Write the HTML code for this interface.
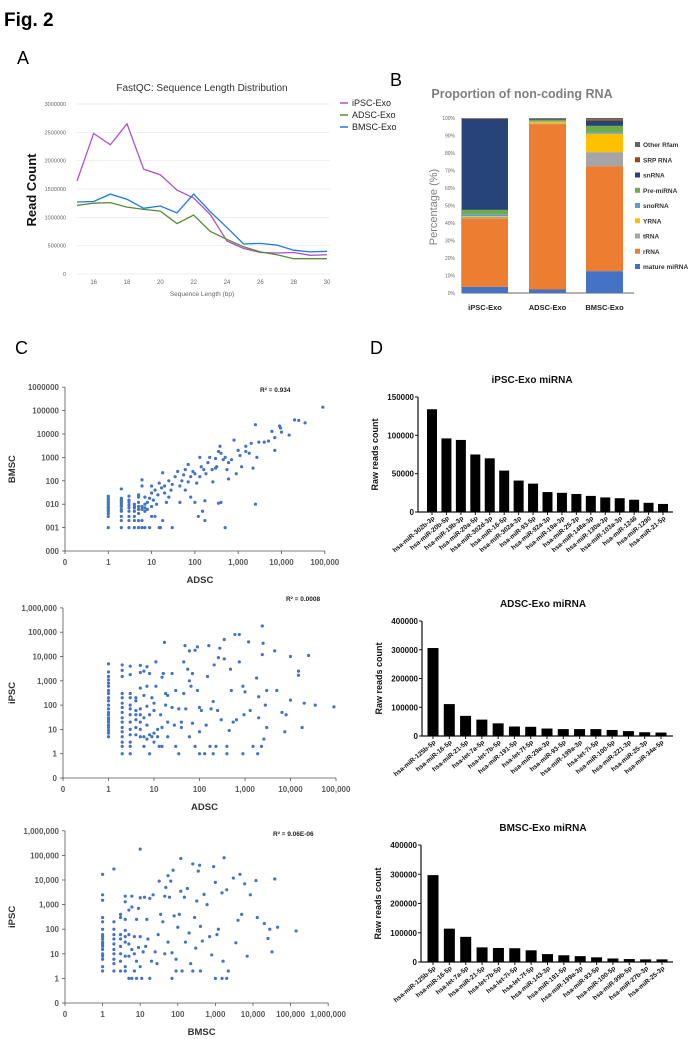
<!DOCTYPE html>
<html><head><meta charset="utf-8"><style>
html,body{margin:0;padding:0;background:#fff;}
svg{display:block;font-family:"Liberation Sans",Arial,sans-serif;}
</style></head><body>
<svg id="fig" width="697" height="1039" viewBox="0 0 697 1039">
<text x="4" y="26" font-size="19" font-weight="bold">Fig. 2</text>
<text x="17" y="64" font-size="18">A</text>
<text x="390" y="86" font-size="18">B</text>
<text x="15" y="354" font-size="18">C</text>
<text x="370" y="354" font-size="18">D</text>
<g id="gA"></g><g id="gB"></g><g id="gC"></g><g id="gD"></g>
</svg>
<script>
// ---- Panel A data ----
const lenCats=[15,16,17,18,19,20,21,22,23,24,25,26,27,28,29,30];
const ipscLen=[1640000,2480000,2280000,2650000,1850000,1750000,1480000,1340000,1050000,580000,450000,380000,370000,380000,330000,340000];
const adscLen=[1210000,1250000,1260000,1180000,1140000,1110000,890000,1040000,750000,610000,480000,390000,340000,270000,270000,270000];
const bmscLen=[1270000,1280000,1410000,1320000,1160000,1200000,1080000,1410000,1100000,820000,530000,540000,510000,420000,390000,400000];
const lenYTicks=[0,500000,1000000,1500000,2000000,2500000,3000000];
const lenXTicks=[16,18,20,22,24,26,28,30];
// ---- Panel B data ----
const rnaGroups=["iPSC-Exo","ADSC-Exo","BMSC-Exo"];
const rnaTypes=["mature miRNA","rRNA","tRNA","YRNA","snoRNA","Pre-miRNA","snRNA","SRP RNA","Other Rfam"];
const rnaIpsc=[3.5,39,1,0.5,1,2.5,52,0.3,0.2];
const rnaAdsc=[2,94.5,0.5,1,0.3,0.7,0.6,0.2,0.2];
const rnaBmsc=[12.5,60,8,10.5,0.8,3.7,3,0.8,0.7];
const pctTicks=["0%","10%","20%","30%","40%","50%","60%","70%","80%","90%","100%"];
// ---- Panel C data ----
const adscBmsc=[[1,1],[1,3],[1,4],[1,5],[1,6],[1,7],[1,8],[1,10],[1,12],[1,15],[1,18],[1,22],[2,1],[2,2],[2,3],[2,5],[2,6],[2,8],[2,9],[2,11],[2,13],[2,15],[2,18],[2,45],[3,1],[3,2],[3,3],[3,5],[3,7],[3,9],[3,12],[3,15],[3,22],[4,1],[4,2],[4,3],[4,5],[4,7],[4,8],[4,10],[5,1],[5,2],[5,4],[5,6],[5,8],[5,12],[5,20],[5,25],[6,1],[6,2],[6,6],[6,8],[6,60],[6,110],[7,1],[7,5],[7,7],[7,10],[7,20],[8,6],[8,12],[9,1],[9,18],[10,3],[10,8],[10,30],[10,60],[11,15],[12,3],[12,40],[13,10],[14,25],[15,1],[15,80],[16,1],[17,50],[18,2],[18,220],[20,30],[20,60],[22,12],[25,100],[25,20],[28,40],[30,1],[30,70],[35,150],[40,250],[45,60],[45,12],[50,100],[55,180],[60,40],[60,300],[70,90],[70,500],[80,20],[80,150],[90,250],[100,12],[100,200],[110,80],[120,3],[130,150],[140,400],[150,5],[160,300],[170,2],[170,14],[180,200],[200,600],[220,1000],[250,300],[260,90],[300,900],[320,400],[350,11],[380,3000],[400,12],[400,1500],[450,800],[500,1],[500,1000],[550,300],[600,120],[700,800],[800,5500],[900,200],[1000,2000],[1100,1200],[1200,400],[1500,3000],[1800,1500],[2000,4000],[2200,350],[2500,10],[2500,25000],[2700,1000],[3000,4500],[4000,4500],[5000,5000],[6000,13000],[7000,2000],[7000,7000],[9000,22000],[10000,12000],[15000,9000],[20000,40000],[25000,38000],[35000,30000],[90000,140000],[9500,18000],[1500,1800],[350,1800],[600,600],[130,1000],[300,350]];
const adscIpsc=[[1,5],[1,7],[1,9],[1,12],[1,15],[1,20],[1,25],[1,30],[1,40],[1,50],[1,70],[1,100],[1,150],[1,200],[1,300],[1,400],[1,600],[1,800],[1,1100],[1,1500],[1,2300],[1,5000],[2,1],[2,2],[2,3],[2,5],[2,8],[2,12],[2,20],[2,30],[2,50],[2,80],[2,120],[2,200],[2,300],[2,1500],[2,2700],[2,4500],[3,1],[3,2],[3,3],[3,6],[3,10],[3,20],[3,40],[3,70],[3,100],[3,200],[3,300],[3,1800],[3,4000],[4,6],[4,12],[4,25],[4,40],[4,60],[4,150],[4,200],[5,5],[5,10],[5,20],[5,40],[5,70],[5,500],[5,2200],[5,4300],[6,2],[6,5],[6,30],[6,250],[6,2500],[7,4],[7,15],[7,90],[7,600],[7,3800],[8,1],[8,6],[8,40],[8,2000],[9,5],[9,200],[10,3],[10,7],[10,60],[10,120],[11,600],[11,6000],[12,5],[12,10],[13,2],[14,40],[15,2],[15,12],[15,1400],[16,2000],[17,38000],[18,100],[18,300],[20,5],[20,20],[20,250],[25,80],[25,2000],[28,15],[30,400],[30,2],[35,1],[35,70],[40,12],[40,20],[45,6000],[45,300],[48,28000],[50,70],[55,3000],[60,5],[60,1000],[60,17000],[65,600],[70,18],[70,2000],[80,2],[80,18000],[90,25000],[90,400],[100,1],[100,80],[100,8],[110,60],[130,1],[140,15],[150,1500],[160,28000],[170,2],[180,70],[200,140],[200,1],[210,4500],[230,2],[250,60],[260,9000],[280,22000],[300,25],[350,50000],[350,8000],[400,1],[400,2],[450,9],[480,3000],[500,400],[550,20],[600,80000],[650,25],[750,80000],[750,6000],[900,1],[900,600],[950,40],[1000,350],[1200,40000],[1300,60],[1500,2],[1800,1300],[1900,1],[2000,30],[2000,220],[2300,2],[2400,180000],[2400,12000],[2500,35000],[2600,4],[2800,100],[3000,12],[3000,400],[4500,17000],[5000,400],[6500,50],[7500,8],[8000,40],[10000,10000],[10000,160],[15000,2500],[15000,1700],[18000,12],[20000,120],[25000,11000],[35000,100],[90000,85]];
const bmscIpsc=[[1,2],[1,3],[1,6],[1,8],[1,10],[1,15],[1,20],[1,25],[1,30],[1,40],[1,50],[1,60],[1,100],[1,200],[1,300],[1,1500],[1,2500],[1,17000],[2,2],[2,4],[2,6],[2,10],[2,15],[2,25],[2,40],[2,60],[2,100],[2,200],[2,28000],[3,2],[3,5],[3,10],[3,20],[3,40],[3,60],[3,300],[3,400],[4,2],[4,3],[4,8],[4,30],[4,50],[4,90],[4,250],[4,1300],[4,2200],[5,1],[5,8],[5,25],[5,60],[5,600],[6,1],[6,15],[6,800],[6,2200],[7,2],[7,10],[7,50],[8,1],[8,5],[8,250],[9,18],[9,700],[10,3],[10,50],[10,1900],[10,180000],[11,1],[12,12],[13,2000],[14,20],[15,250],[16,40],[18,1],[18,1800],[20,5],[22,2500],[25,12],[28,4],[30,60],[32,9000],[35,400],[40,200],[45,2200],[45,10],[48,5000],[55,30],[55,15000],[60,2000],[65,9000],[70,1],[70,11],[75,25000],[80,350],[90,2],[90,6],[100,120],[110,400],[120,75000],[120,3500],[130,2],[150,2000],[160,30],[180,4500],[200,70],[220,4],[250,2],[250,45000],[280,300],[300,17],[320,1400],[350,23000],[380,40000],[400,130],[400,2],[450,33],[500,2600],[600,1000],[700,50],[800,9],[900,35000],[1000,8000],[1000,1],[1100,60],[1200,100],[1500,3000],[1500,1],[1600,5],[1700,80000],[2000,1],[2000,4000],[2200,2],[3000,12000],[3500,28],[4000,230],[4500,17000],[5000,400],[6000,7000],[7000,8],[8500,2500],[12000,9500],[13000,300],[20000,170],[25000,42],[28000,100],[32000,12],[38000,11000],[45000,120],[140000,85]];
const sc1XTicks=["0","1","10","100","1,000","10,000","100,000"];
const sc1YTicks=["000","001","010","100","1000","10000","100000","1000000"];
const sc2XTicks=["0","1","10","100","1,000","10,000","100,000"];
const sc2YTicks=["0","1","10","100","1,000","10,000","100,000","1,000,000"];
const sc3XTicks=["0","1","10","100","1,000","10,000","100,000","1,000,000"];
const sc3YTicks=["0","1","10","100","1,000","10,000","100,000","1,000,000"];
// ---- Panel D data ----
const ipscMirs=["hsa-miR-302b-3p","hsa-miR-20b-5p","hsa-miR-19b-3p","hsa-miR-20a-5p","hsa-miR-302d-3p","hsa-miR-16-5p","hsa-miR-302a-3p","hsa-miR-93-5p","hsa-miR-92a-3p","hsa-miR-19a-3p","hsa-miR-25-3p","hsa-miR-148a-3p","hsa-miR-130a-3p","hsa-miR-103a-3p","hsa-miR-1246","hsa-miR-1290","hsa-miR-21-5p"];
const ipscCounts=[134000,96000,94000,75000,70000,54000,41000,37000,26000,25000,23500,21000,19000,18000,16000,12000,10500];
const adscMirs=["hsa-miR-125b-5p","hsa-miR-16-5p","hsa-miR-21-5p","hsa-let-7a-5p","hsa-let-7b-5p","hsa-miR-191-5p","hsa-let-7f-5p","hsa-miR-29a-3p","hsa-miR-93-5p","hsa-miR-199a-3p","hsa-let-7i-5p","hsa-miR-100-5p","hsa-miR-221-3p","hsa-miR-25-3p","hsa-miR-34a-5p"];
const adscCounts=[306000,111000,70000,57000,44000,33000,32000,26000,24000,24000,24000,21000,17000,13000,12000];
const bmscMirs=["hsa-miR-125b-5p","hsa-miR-16-5p","hsa-let-7a-5p","hsa-miR-21-5p","hsa-let-7b-5p","hsa-let-7i-5p","hsa-let-7f-5p","hsa-miR-143-3p","hsa-miR-191-5p","hsa-miR-199a-3p","hsa-miR-93-5p","hsa-miR-100-5p","hsa-miR-99b-5p","hsa-miR-27b-3p","hsa-miR-25-3p"];
const bmscCounts=[297000,114000,86000,50000,48000,47000,40000,27000,23000,20000,16000,12000,10000,9000,9000];
const ipscTicks=[0,50000,100000,150000];
const msTicks=[0,100000,200000,300000,400000];

const NS="http://www.w3.org/2000/svg";
function mk(parent,tag,attrs,text){const e=document.createElementNS(NS,tag);for(const k in attrs)e.setAttribute(k,attrs[k]);if(text!==undefined)e.textContent=text;parent.appendChild(e);return e;}

// ---- Panel A ----
(function(){
const g=document.getElementById('gA');
const X=v=>77+(v-15)*(327-77)/15, Y=v=>274-v*(170/3000000);
let t=mk(g,'text',{x:202,y:91,'font-size':10,fill:'#333','text-anchor':'middle'},'FastQC: Sequence Length Distribution');

lenYTicks.forEach(v=>{let l=mk(g,'line',{x1:77,x2:330,y1:Y(v),y2:Y(v),stroke:'#e6e6e6','stroke-width':0.7});

let tx=mk(g,'text',{x:66,y:Y(v)+2,'font-size':5.5,fill:'#666','text-anchor':'end'},String(v));
});
lenXTicks.forEach(v=>{let tx=mk(g,'text',{x:X(v),y:284,'font-size':6,fill:'#666','text-anchor':'middle'},String(v));
});
t=mk(g,'text',{x:202,y:296,'font-size':6.5,fill:'#666','text-anchor':'middle'},'Sequence Length (bp)');

t=mk(g,'text',{x:0,y:0,'font-size':13,'font-weight':'bold',fill:'#111','text-anchor':'middle',transform:'translate(36,190) rotate(-90)'},'Read Count');

const series=[[ipscLen,'#b04fc9','iPSC-Exo',106],[adscLen,'#5a8a34','ADSC-Exo',118],[bmscLen,'#1e78e6','BMSC-Exo',130]];
series.forEach(s=>{let p=mk(g,'polyline',{points:s[0].map((v,i)=>X(lenCats[i])+','+Y(v)).join(' '),fill:'none',stroke:s[1],'stroke-width':1.3});

let l=mk(g,'line',{x1:340,x2:348,y1:s[3]-3,y2:s[3]-3,stroke:s[1],'stroke-width':1.5});

let tx=mk(g,'text',{x:352,y:s[3],'font-size':9,fill:'#222'},s[2]);
});
})();

// ---- Panel B ----
(function(){
const g=document.getElementById('gB');
const colors=['#4472c4','#ed7d31','#a5a5a5','#ffc000','#5b9bd5','#70ad47','#264478','#9e480e','#636363'];
const Y=p=>293-p*1.75;
let t=mk(g,'text',{x:522,y:98,'font-size':12.5,'font-weight':'bold',fill:'#7f7f7f','text-anchor':'middle'},'Proportion of non-coding RNA');

pctTicks.forEach((s,i)=>{let tx=mk(g,'text',{x:455,y:Y(i*10)+2,'font-size':5,fill:'#666','text-anchor':'end'},s);
});
let a=mk(g,'path',{d:'M462,118 V293 H634',fill:'none',stroke:'#333','stroke-width':0.8});

t=mk(g,'text',{x:0,y:0,'font-size':11,fill:'#7f7f7f','text-anchor':'middle',transform:'translate(437,207) rotate(-90)'},'Percentage (%)');

const data=[rnaIpsc,rnaAdsc,rnaBmsc], bx=[462,529,586], bw=[46,37,37];
data.forEach((vals,gi)=>{let cum=0;vals.forEach((v,k)=>{let r=mk(g,'rect',{x:bx[gi],y:Y(cum+v),width:bw[gi],height:v*1.75,fill:colors[k]});
cum+=v;});
let tx=mk(g,'text',{x:bx[gi]+bw[gi]/2,y:310,'font-size':7.5,'font-weight':'bold',fill:'#222','text-anchor':'middle'},rnaGroups[gi]);
});
for(let k=8;k>=0;k--){const yy=147+(8-k)*15.25;
let r=mk(g,'rect',{x:635,y:yy-5,width:5,height:5,fill:colors[k]});
let tx=mk(g,'text',{x:643,y:yy,'font-size':6.5,'font-weight':'bold',fill:'#333'},rnaTypes[k]);}
})();

// ---- Panel C ----
function scatter(cfg){
const g=document.getElementById('gC');
const X=v=>cfg.x0+(Math.log10(v)+1)*cfg.xd, Y=v=>cfg.y0-(Math.log10(v)+1)*cfg.yd;
const xEnd=cfg.x0+(cfg.xt.length-1)*cfg.xd, yTop=cfg.y0-(cfg.yt.length-1)*cfg.yd;
let a=mk(g,'path',{d:`M${cfg.x0},${yTop} V${cfg.y0} H${xEnd}`,fill:'none',stroke:'#555','stroke-width':0.8});

cfg.yt.forEach((s,i)=>{const yy=cfg.y0-i*cfg.yd;mk(g,'line',{x1:cfg.x0-3,x2:cfg.x0,y1:yy,y2:yy,stroke:'#555','stroke-width':0.8});
let tx=mk(g,'text',{x:cfg.x0-6,y:yy+3,'font-size':8,'font-weight':'bold',fill:'#595959','text-anchor':'end'},s);});
cfg.xt.forEach((s,i)=>{const xx=cfg.x0+i*cfg.xd;mk(g,'line',{x1:xx,x2:xx,y1:cfg.y0,y2:cfg.y0+3,stroke:'#555','stroke-width':0.8});
let tx=mk(g,'text',{x:xx,y:cfg.y0+14,'font-size':8,'font-weight':'bold',fill:'#595959','text-anchor':'middle'},s);});
cfg.pts.forEach(p=>{let c=mk(g,'circle',{cx:X(p[0]),cy:Y(p[1]),r:1.6,fill:'#4472c4'});});
let tx=mk(g,'text',{x:cfg.rx,y:cfg.ry,'font-size':6.5,'font-weight':'bold',fill:'#222'},cfg.r2);
tx=mk(g,'text',{x:(cfg.x0+xEnd)/2+5,y:cfg.xly,'font-size':9.5,'font-weight':'bold',fill:'#333','text-anchor':'middle'},cfg.xl);
tx=mk(g,'text',{x:0,y:0,'font-size':9.5,'font-weight':'bold',fill:'#333','text-anchor':'middle',transform:`translate(15,${(cfg.y0+yTop)/2}) rotate(-90)`},cfg.yl);
}
scatter({x0:65,xd:43.3,y0:551,yd:23.4,xt:sc1XTicks,yt:sc1YTicks,pts:adscBmsc,r2:'R² = 0.934',rx:260,ry:392,xl:'ADSC',xly:583,yl:'BMSC'});
scatter({x0:63,xd:45.5,y0:778,yd:24.3,xt:sc2XTicks,yt:sc2YTicks,pts:adscIpsc,r2:'R² = 0.0008',rx:286,ry:601,xl:'ADSC',xly:810,yl:'iPSC'});
scatter({x0:65,xd:37.6,y0:1003,yd:24.6,xt:sc3XTicks,yt:sc3YTicks,pts:bmscIpsc,r2:'R² = 9.06E-06',rx:273,ry:836,xl:'BMSC',xly:1035,yl:'iPSC'});

// ---- Panel D ----
function bars(cfg){
const g=document.getElementById('gD');
const max=cfg.ticks[cfg.ticks.length-1];
const Y=v=>cfg.y0-v/max*(cfg.y0-cfg.yTop);
let t=mk(g,'text',{x:cfg.tx,y:cfg.ty,'font-size':10,'font-weight':'bold',fill:'#111','text-anchor':'middle'},cfg.title);
let a=mk(g,'path',{d:`M${cfg.ax},${cfg.yTop} V${cfg.y0} H673`,fill:'none',stroke:'#111','stroke-width':1.2});
cfg.ticks.forEach(v=>{mk(g,'line',{x1:cfg.ax-3,x2:cfg.ax,y1:Y(v),y2:Y(v),stroke:'#111','stroke-width':1});
let tx=mk(g,'text',{x:cfg.ax-4,y:Y(v)+3,'font-size':8,'font-weight':'bold',fill:'#111','text-anchor':'end'},String(v));});
const n=cfg.vals.length, step=(cfg.last-cfg.first)/(n-1);
cfg.vals.forEach((v,i)=>{const cx=cfg.first+i*step;
let r=mk(g,'rect',{x:cx-cfg.bw/2,y:Y(v),width:cfg.bw,height:cfg.y0-Y(v),fill:'#000'});
mk(g,'line',{x1:cx,x2:cx,y1:cfg.y0,y2:cfg.y0+3,stroke:'#111','stroke-width':1});
let tx=mk(g,'text',{x:0,y:0,'font-size':6.5,'font-weight':'bold',fill:'#111','text-anchor':'end',transform:`translate(${cx+3},${cfg.y0+7}) rotate(-40)`},cfg.names[i]);});
t=mk(g,'text',{x:0,y:0,'font-size':9,'font-weight':'bold',fill:'#111','text-anchor':'middle',transform:`translate(${cfg.ax-40},${(cfg.y0+cfg.yTop)/2}) rotate(-90)`},'Raw reads count');
}
bars({title:'iPSC-Exo miRNA',tx:532,ty:383,ax:418,y0:512,yTop:397,ticks:ipscTicks,vals:ipscCounts,names:ipscMirs,first:432,last:663,bw:10});
bars({title:'ADSC-Exo miRNA',tx:543,ty:607,ax:422,y0:736,yTop:621,ticks:msTicks,vals:adscCounts,names:adscMirs,first:433,last:661,bw:11});
bars({title:'BMSC-Exo miRNA',tx:543,ty:831,ax:421,y0:962,yTop:845,ticks:msTicks,vals:bmscCounts,names:bmscMirs,first:433,last:662,bw:11});
</script>
</body></html>
